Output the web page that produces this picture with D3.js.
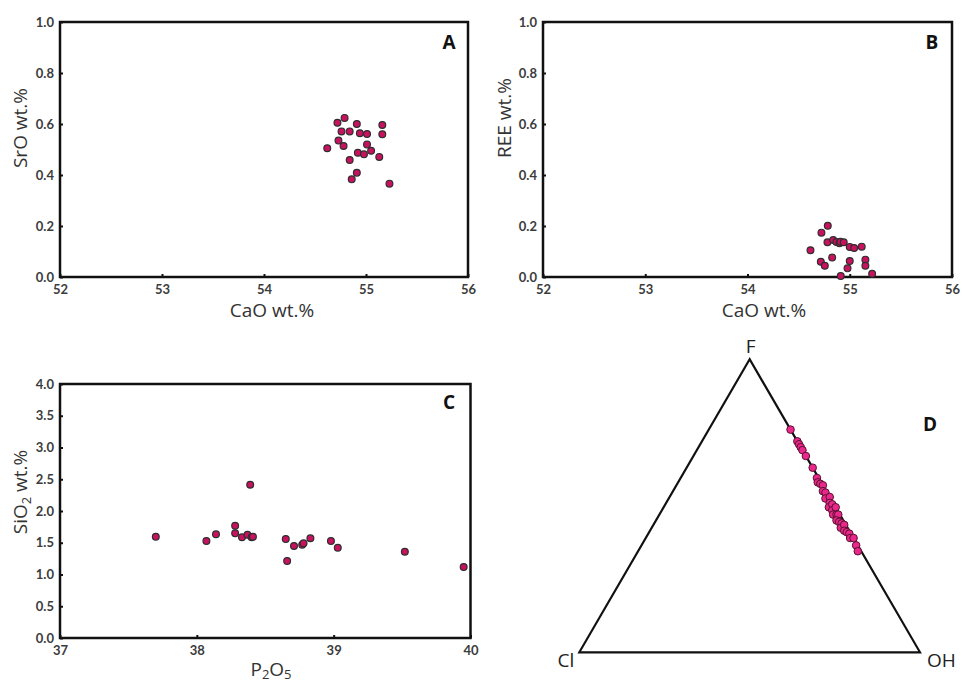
<!DOCTYPE html>
<html>
<head>
<meta charset="utf-8">
<script src="https://cdn.jsdelivr.net/npm/d3@7"></script>
<style>
  body { margin: 0; background: #fff; }
  svg { display: block; }
  .tick text { font-family: Lato, "Open Sans", sans-serif; font-weight: bold; font-size: 13px; fill: #3c3c3c; }
  .title { font-family: "Open Sans", Lato, sans-serif; font-size: 19px; fill: #333; }
  .letter { font-family: "Open Sans", sans-serif; font-weight: bold; font-size: 19px; fill: #111; }
</style>
</head>
<body>
<script>
// panel A: CaO vs SrO
var caoA = [54.72, 54.79, 54.91, 55.16, 54.76, 54.84, 54.94, 55.01, 55.16, 54.73, 54.78,
            55.01, 54.62, 55.05, 54.92, 54.98, 55.13, 54.84, 54.91, 54.86, 55.23];
var sro  = [0.605, 0.624, 0.600, 0.596, 0.571, 0.571, 0.564, 0.561, 0.560, 0.535, 0.514,
            0.520, 0.505, 0.495, 0.487, 0.481, 0.471, 0.459, 0.409, 0.383, 0.366];

// panel B: CaO vs REE
var caoB = [54.785, 54.723, 54.782, 54.838, 54.870, 54.899, 54.909, 54.941, 55.00, 55.043, 55.117,
            54.616, 54.828, 54.717, 54.756, 55.00, 55.153, 55.153, 54.978, 55.219, 54.912];
var ree  = [0.201, 0.174, 0.136, 0.145, 0.137, 0.132, 0.138, 0.136, 0.118, 0.114, 0.119,
            0.105, 0.076, 0.060, 0.044, 0.063, 0.068, 0.044, 0.034, 0.013, 0.004];

// panel C: P2O5 vs SiO2
var p2o5 = [37.70, 38.07, 38.14, 38.28, 38.28, 38.33, 38.37, 38.40, 38.41, 38.39,
            38.65, 38.66, 38.71, 38.77, 38.78, 38.83, 38.98, 39.03, 39.52, 39.95];
var sio2 = [1.595, 1.528, 1.633, 1.768, 1.649, 1.586, 1.627, 1.586, 1.595, 2.414,
            1.559, 1.213, 1.449, 1.469, 1.491, 1.570, 1.528, 1.422, 1.359, 1.118];

// panel D: F - Cl - OH (fractions)
var ternF  = [0.760, 0.720, 0.710, 0.700, 0.690, 0.670, 0.630, 0.595, 0.580, 0.575, 0.570, 0.550,
              0.545, 0.525, 0.530, 0.510, 0.495, 0.505, 0.485, 0.495, 0.470, 0.470, 0.470, 0.450,
              0.445, 0.440, 0.425, 0.435, 0.415, 0.410, 0.405, 0.390, 0.390, 0.365, 0.345];
var ternCl = [0.000, 0.000, 0.000, 0.000, 0.000, 0.000, 0.000, 0.005, 0.010, 0.005, 0.000, 0.010,
              0.005, 0.015, 0.000, 0.010, 0.020, 0.005, 0.015, 0.000, 0.020, 0.010, 0.005, 0.020,
              0.015, 0.010, 0.020, 0.005, 0.015, 0.010, 0.005, 0.010, 0.000, 0.005, 0.010];
var ternOH = [0.240, 0.280, 0.290, 0.300, 0.310, 0.330, 0.370, 0.400, 0.410, 0.420, 0.430, 0.440,
              0.450, 0.460, 0.470, 0.480, 0.485, 0.490, 0.500, 0.505, 0.510, 0.520, 0.525, 0.530,
              0.540, 0.550, 0.555, 0.560, 0.570, 0.580, 0.590, 0.600, 0.610, 0.630, 0.645];

var caoTicks = [52, 53, 54, 55, 56];
var fracTicks = [0, 0.2, 0.4, 0.6, 0.8, 1.0];
var p2o5Ticks = [37, 38, 39, 40];
var sio2Ticks = [0, 0.5, 1, 1.5, 2, 2.5, 3, 3.5, 4];

var svg = d3.select("body").append("svg")
  .attr("width", 963)
  .attr("height", 682);

function scatterPanel(o) {
  var x = d3.scaleLinear().domain(o.xDomain).range([o.left, o.right]);
  var y = d3.scaleLinear().domain(o.yDomain).range([o.bottom, o.top]);
  var g = svg.append("g");

  g.append("g")
    .attr("transform", "translate(0," + o.bottom + ")")
    .call(d3.axisBottom(x).tickValues(o.xTicks).tickSizeInner(-3).tickSizeOuter(0).tickPadding(8).tickFormat(d3.format("d")))
    .call(function(a) { a.select(".domain").remove(); a.selectAll("line").attr("stroke", "#111").attr("stroke-width", 2); });

  g.append("g")
    .attr("transform", "translate(" + o.left + ",0)")
    .call(d3.axisLeft(y).tickValues(o.yTicks).tickSizeInner(-3).tickSizeOuter(0).tickPadding(6).tickFormat(d3.format(".1f")))
    .call(function(a) { a.select(".domain").remove(); a.selectAll("line").attr("stroke", "#111").attr("stroke-width", 2); });

  g.append("rect")
    .attr("x", o.left).attr("y", o.top)
    .attr("width", o.right - o.left).attr("height", o.bottom - o.top)
    .attr("fill", "none").attr("stroke", "#111").attr("stroke-width", 2.5);

  g.selectAll("circle.pt")
    .data(o.xs.map(function(v, i) { return [v, o.ys[i]]; }))
    .enter().append("circle")
    .attr("class", "pt")
    .attr("cx", function(d) { return x(d[0]); })
    .attr("cy", function(d) { return y(d[1]); })
    .attr("r", 3.4)
    .attr("fill", "#c8125f")
    .attr("stroke", "#2e2e2e")
    .attr("stroke-width", 1.2);

  var yt = g.append("text").attr("class", "title")
    .attr("text-anchor", "middle")
    .attr("transform", "translate(" + o.yTitleX + "," + o.yTitleY + ") rotate(-90)")
    .attr("dy", "0.35em");
  yt.append("tspan").text(o.yTitle[0]);
  if (o.yTitle.length > 1) {
    yt.append("tspan").attr("font-size", "13px").attr("dy", "4").text(o.yTitle[1]);
    yt.append("tspan").attr("dy", "-4").text(o.yTitle[2]);
  }

  var xt = g.append("text").attr("class", "title")
    .attr("text-anchor", "middle")
    .attr("x", o.xTitleX).attr("y", o.xTitleY);
  xt.append("tspan").text(o.xTitle[0]);
  if (o.xTitle.length > 1) {
    xt.append("tspan").attr("font-size", "13px").attr("dy", "3").text(o.xTitle[1]);
    xt.append("tspan").attr("dy", "-3").text(o.xTitle[2]);
    xt.append("tspan").attr("font-size", "13px").attr("dy", "3").text(o.xTitle[3]);
  }

  g.append("text").attr("class", "letter")
    .attr("text-anchor", "middle")
    .attr("x", o.letterX).attr("y", o.letterY)
    .text(o.letter);
}

scatterPanel({
  left: 60, right: 468, top: 22, bottom: 277,
  xDomain: [52, 56], yDomain: [0, 1], xTicks: caoTicks, yTicks: fracTicks,
  xs: caoA, ys: sro,
  yTitle: ["SrO wt.%"], yTitleX: 20, yTitleY: 128,
  xTitle: ["CaO wt.%"], xTitleX: 272, xTitleY: 317,
  letter: "A", letterX: 449, letterY: 49
});

scatterPanel({
  left: 543, right: 952, top: 22, bottom: 277,
  xDomain: [52, 56], yDomain: [0, 1], xTicks: caoTicks, yTicks: fracTicks,
  xs: caoB, ys: ree,
  yTitle: ["REE wt.%"], yTitleX: 504, yTitleY: 118,
  xTitle: ["CaO wt.%"], xTitleX: 764, xTitleY: 317,
  letter: "B", letterX: 932, letterY: 49
});

scatterPanel({
  left: 60, right: 470.5, top: 384, bottom: 638,
  xDomain: [37, 40], yDomain: [0, 4], xTicks: p2o5Ticks, yTicks: sio2Ticks,
  xs: p2o5, ys: sio2,
  yTitle: ["SiO", "2", " wt.%"], yTitleX: 20, yTitleY: 492,
  xTitle: ["P", "2", "O", "5"], xTitleX: 271, xTitleY: 676,
  letter: "C", letterX: 449, letterY: 409
});

// ternary panel D
var h = Math.sqrt(3) / 2;
var tx = d3.scaleLinear().domain([0, 1]).range([579.3, 920]);
var ty = d3.scaleLinear().domain([0, h]).range([652.3, 359.3]);
function tern(f, cl, oh) {
  var s = f + cl + oh;
  return [tx((oh + f / 2) / s), ty(f * h / s)];
}
var corners = [tern(1, 0, 0), tern(0, 1, 0), tern(0, 0, 1)];
var gD = svg.append("g");
gD.append("path")
  .attr("d", d3.line()(corners) + "Z")
  .attr("fill", "none").attr("stroke", "#111").attr("stroke-width", 2.2)
  .attr("stroke-linejoin", "miter");

var tData = ternF.map(function(f, i) { return tern(f, ternCl[i], ternOH[i]); });
gD.selectAll("circle")
  .data(tData)
  .enter().append("circle")
  .attr("cx", function(d) { return d[0]; })
  .attr("cy", function(d) { return d[1]; })
  .attr("r", 3.8)
  .attr("fill", "#e8288a")
  .attr("stroke", "#5a1030")
  .attr("stroke-width", 1);

var vLabels = [["F", corners[0][0] + 1, corners[0][1] - 6, "middle"],
               ["Cl", corners[1][0] - 5, corners[1][1] + 15, "end"],
               ["OH", corners[2][0] + 7, corners[2][1] + 15, "start"]];
gD.selectAll("text.v")
  .data(vLabels)
  .enter().append("text")
  .attr("class", "title v")
  .attr("x", function(d) { return d[1]; })
  .attr("y", function(d) { return d[2]; })
  .attr("text-anchor", function(d) { return d[3]; })
  .style("font-size", "19px").style("fill", "#222")
  .text(function(d) { return d[0]; });

gD.append("text").attr("class", "letter")
  .attr("text-anchor", "middle")
  .attr("x", 930).attr("y", 431)
  .text("D");
</script>
</body>
</html>
